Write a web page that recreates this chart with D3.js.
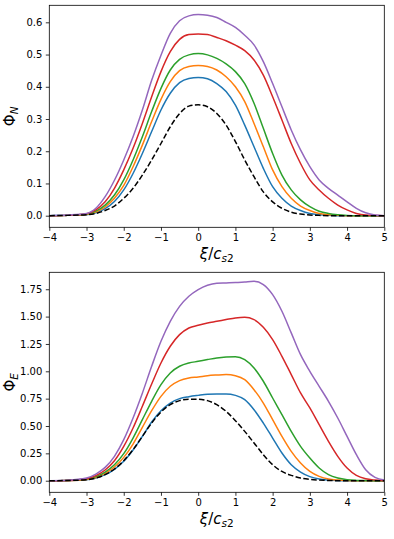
<!DOCTYPE html>
<html>
<head>
<meta charset="utf-8">
<script src="https://cdn.jsdelivr.net/npm/d3@7"></script>
<style>
  html, body { margin: 0; padding: 0; background: #fff; }
  svg { display: block; font-family: "DejaVu Sans", sans-serif; }
  .tick text { font-size: 10px; fill: #000; }
</style>
</head>
<body>
<div id="main"></div>
<script>
// x grid shared by every curve (xi / c_s2)
const xi = [-4, -3.5, -3, -2.75, -2.5, -2.25, -2, -1.75, -1.5, -1.25, -1, -0.75, -0.5, -0.25,
            0, 0.25, 0.5, 0.75, 1, 1.25, 1.5, 1.75, 2, 2.25, 2.5, 2.75, 3, 3.25, 3.5, 3.75,
            4, 4.25, 4.5, 4.75, 5];

// Phi_N (top panel)
const phiN_ref    = [0, 0.001, 0.003, 0.007, 0.016, 0.03, 0.054, 0.085, 0.126, 0.173, 0.224, 0.276, 0.317, 0.34, 0.344, 0.338, 0.317, 0.281, 0.23, 0.173, 0.121, 0.074, 0.043, 0.023, 0.011, 0.005, 0.002, 0.001, 0, 0, 0, 0, 0, 0, 0];
const phiN_blue   = [0, 0.001, 0.003, 0.009, 0.022, 0.044, 0.08, 0.131, 0.193, 0.261, 0.328, 0.38, 0.413, 0.426, 0.429, 0.425, 0.41, 0.385, 0.343, 0.281, 0.214, 0.147, 0.09, 0.054, 0.03, 0.016, 0.007, 0.003, 0.001, 0, 0, 0, 0, 0, 0];
const phiN_orange = [0, 0.001, 0.004, 0.011, 0.027, 0.054, 0.094, 0.152, 0.219, 0.292, 0.361, 0.416, 0.45, 0.463, 0.466, 0.463, 0.452, 0.431, 0.40, 0.354, 0.286, 0.214, 0.142, 0.09, 0.054, 0.03, 0.016, 0.007, 0.003, 0.001, 0, 0, 0, 0, 0];
const phiN_green  = [0, 0.001, 0.005, 0.014, 0.033, 0.064, 0.111, 0.173, 0.245, 0.323, 0.395, 0.452, 0.485, 0.499, 0.503, 0.499, 0.488, 0.471, 0.447, 0.41, 0.349, 0.271, 0.193, 0.126, 0.08, 0.049, 0.028, 0.014, 0.007, 0.003, 0.001, 0, 0, 0, 0];
const phiN_red    = [0, 0.001, 0.006, 0.018, 0.043, 0.085, 0.142, 0.209, 0.286, 0.369, 0.447, 0.509, 0.547, 0.562, 0.564, 0.562, 0.553, 0.543, 0.529, 0.512, 0.483, 0.436, 0.369, 0.297, 0.224, 0.162, 0.111, 0.080, 0.054, 0.033, 0.018, 0.007, 0.002, 0.001, 0];
const phiN_purple = [0, 0.002, 0.007, 0.023, 0.059, 0.11, 0.173, 0.245, 0.328, 0.42, 0.498, 0.566, 0.605, 0.62, 0.624, 0.622, 0.615, 0.60, 0.584, 0.56, 0.53, 0.478, 0.41, 0.338, 0.266, 0.204, 0.152, 0.111, 0.085, 0.064, 0.043, 0.023, 0.009, 0.002, 0];

// Phi_E (bottom panel)
const phiE_ref    = [0, 0.002, 0.009, 0.024, 0.055, 0.107, 0.183, 0.284, 0.405, 0.527, 0.628, 0.695, 0.732, 0.744, 0.744, 0.732, 0.695, 0.634, 0.549, 0.451, 0.345, 0.238, 0.146, 0.085, 0.049, 0.024, 0.012, 0.006, 0.002, 0, 0, 0, 0, 0, 0];
const phiE_blue   = [0, 0.002, 0.009, 0.024, 0.055, 0.104, 0.177, 0.28, 0.405, 0.537, 0.64, 0.71, 0.75, 0.768, 0.78, 0.79, 0.793, 0.793, 0.78, 0.741, 0.649, 0.527, 0.39, 0.253, 0.146, 0.079, 0.037, 0.015, 0.006, 0.002, 0, 0, 0, 0, 0];
const phiE_orange = [0, 0.002, 0.012, 0.03, 0.067, 0.125, 0.213, 0.335, 0.488, 0.64, 0.771, 0.863, 0.915, 0.939, 0.948, 0.96, 0.966, 0.97, 0.96, 0.924, 0.832, 0.71, 0.558, 0.405, 0.268, 0.162, 0.085, 0.04, 0.015, 0.006, 0.002, 0, 0, 0, 0];
const phiE_green  = [0, 0.003, 0.015, 0.037, 0.079, 0.146, 0.247, 0.39, 0.558, 0.726, 0.878, 0.985, 1.046, 1.076, 1.091, 1.107, 1.122, 1.131, 1.134, 1.107, 1.03, 0.909, 0.756, 0.604, 0.451, 0.314, 0.207, 0.116, 0.055, 0.024, 0.009, 0.003, 0.001, 0, 0];
const phiE_red    = [0, 0.003, 0.018, 0.046, 0.098, 0.183, 0.314, 0.482, 0.68, 0.884, 1.076, 1.229, 1.335, 1.396, 1.421, 1.442, 1.457, 1.473, 1.488, 1.494, 1.473, 1.402, 1.29, 1.137, 0.97, 0.802, 0.665, 0.512, 0.36, 0.223, 0.116, 0.049, 0.018, 0.006, 0];
const phiE_purple = [0, 0.004, 0.024, 0.061, 0.122, 0.223, 0.375, 0.573, 0.80, 1.046, 1.274, 1.457, 1.594, 1.686, 1.747, 1.787, 1.805, 1.808, 1.811, 1.817, 1.823, 1.793, 1.701, 1.549, 1.351, 1.152, 1.0, 0.863, 0.726, 0.573, 0.405, 0.238, 0.10, 0.03, 0.006];

// tick labels
const xTicks = [-4, -3, -2, -1, 0, 1, 2, 3, 4, 5];
const yTicksN = [0, 0.1, 0.2, 0.3, 0.4, 0.5, 0.6];
const yTicksE = [0, 0.25, 0.5, 0.75, 1.0, 1.25, 1.5, 1.75];

const colors = ['#1f77b4', '#ff7f0e', '#2ca02c', '#d62728', '#9467bd'];

const w = 394, h = 539;
const svg = d3.select('#main').append('svg').attr('width', w).attr('height', h);

const drawPanel = (box, yDomain, yTicks, yFmt, series, ref, sub) => {

    const xScale = d3.scaleLinear().domain([-4, 5]).range([box.left, box.right]);
    const yScale = d3.scaleLinear().domain(yDomain).range([box.bottom, box.top]);

    const clipId = 'clip' + sub;
    svg.append('clipPath').attr('id', clipId)
        .append('rect')
        .attr('x', box.left).attr('y', box.top)
        .attr('width', box.right - box.left).attr('height', box.bottom - box.top);

    const line = d3.line()
        .x((d, i) => xScale(xi[i]))
        .y(d => yScale(d))
        .curve(d3.curveMonotoneX);

    const g = svg.append('g').attr('clip-path', 'url(#' + clipId + ')');

    series.forEach((s, i) => {
        g.append('path')
            .attr('d', line(s))
            .attr('fill', 'none')
            .attr('stroke', colors[i])
            .attr('stroke-width', 1.5);
    });

    g.append('path')        // reference curve, dashed, drawn last
        .attr('d', line(ref))
        .attr('fill', 'none')
        .attr('stroke', '#000')
        .attr('stroke-width', 1.5)
        .attr('stroke-dasharray', '5.55,2.4');

    const xAxis = d3.axisBottom(xScale).tickValues(xTicks).tickFormat(d3.format('d'))
        .tickSize(3.5).tickPadding(3.5).tickSizeOuter(0);
    const yAxis = d3.axisLeft(yScale).tickValues(yTicks).tickFormat(d3.format(yFmt))
        .tickSize(3.5).tickPadding(3.5).tickSizeOuter(0);

    const gx = svg.append('g').attr('transform', 'translate(0,' + box.bottom + ')').call(xAxis);
    const gy = svg.append('g').attr('transform', 'translate(' + box.left + ',0)').call(yAxis);
    [gx, gy].forEach(a => {
        a.select('.domain').remove();
        a.selectAll('.tick line').attr('stroke', '#000').attr('stroke-width', 0.8);
        a.attr('font-family', null).attr('font-size', null);
    });

    svg.append('rect')      // axes frame
        .attr('x', box.left).attr('y', box.top)
        .attr('width', box.right - box.left).attr('height', box.bottom - box.top)
        .attr('fill', 'none').attr('stroke', '#000').attr('stroke-width', 0.8);

    // x label  xi / c_s2
    const xl = svg.append('text')
        .attr('x', (box.left + box.right) / 2)
        .attr('y', box.bottom + 32)
        .attr('text-anchor', 'middle')
        .style('font-size', '15px');
    xl.append('tspan').style('font-style', 'italic').text('ξ');
    xl.append('tspan').text('/');
    xl.append('tspan').style('font-style', 'italic').text('c');
    xl.append('tspan').attr('dy', 3).style('font-style', 'italic').style('font-size', '10.5px').text('s');
    xl.append('tspan').style('font-size', '10.5px').text('2');

    // y label  Phi_N / Phi_E
    const yc = (box.top + box.bottom) / 2;
    const yl = svg.append('text')
        .attr('transform', 'translate(15,' + yc + ') rotate(-90)')
        .attr('text-anchor', 'middle')
        .style('font-size', '15px');
    yl.append('tspan').text('Φ');
    yl.append('tspan').attr('dy', 3).style('font-style', 'italic').style('font-size', '10.5px').text(sub);
};

drawPanel({ left: 49.3, right: 384.3, top: 5.3, bottom: 227.3 }, [-0.036, 0.6528], yTicksN, '.1f',
    [phiN_blue, phiN_orange, phiN_green, phiN_red, phiN_purple], phiN_ref, 'N');

drawPanel({ left: 49.3, right: 384.3, top: 272.3, bottom: 492.3 }, [-0.106, 1.905], yTicksE, '.2f',
    [phiE_blue, phiE_orange, phiE_green, phiE_red, phiE_purple], phiE_ref, 'E');
</script>
</body>
</html>
